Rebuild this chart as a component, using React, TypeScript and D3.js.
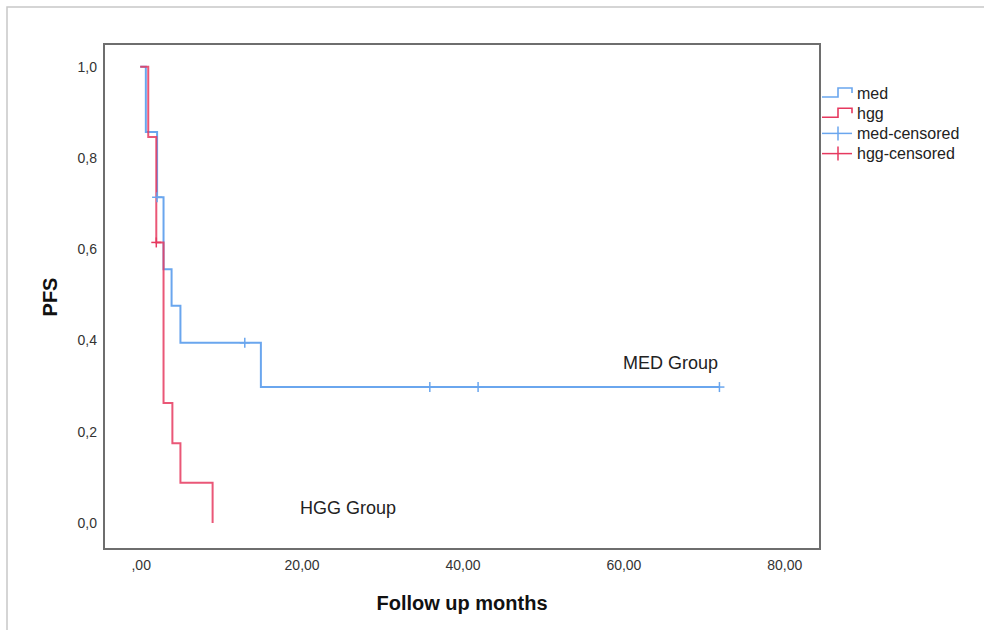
import React from "react"
import * as d3 from "d3"

const chart_width = 984
const chart_height = 630

// Kaplan-Meier steps
const medTimes = [0, 0.7, 2.1, 2.9, 3.9, 5.0, 15.0, 72.0]
const medSurv = [1.0, 0.857, 0.714, 0.556, 0.476, 0.395, 0.298, 0.298]
const hggTimes = [0, 1.0, 2.0, 2.9, 4.0, 5.0, 9.0]
const hggSurv = [1.0, 0.846, 0.615, 0.263, 0.175, 0.088, 0.0]

const medCensorTimes = [2.1, 13, 36, 42, 72]
const medCensorSurv = [0.714, 0.395, 0.298, 0.298, 0.298]
const hggCensorTimes = [2.0]
const hggCensorSurv = [0.615]

const xTicks = [0, 20, 40, 60, 80]
const xTickLabels = [",00", "20,00", "40,00", "60,00", "80,00"]
const yTicks = [0, 0.2, 0.4, 0.6, 0.8, 1.0]
const yTickLabels = ["0,0", "0,2", "0,4", "0,6", "0,8", "1,0"]

const legendLabels = ["med", "hgg", "med-censored", "hgg-censored"]

const blue = "#6aa6ee"
const red = "#e6395f"

const plot = { left: 104, right: 820, top: 44, bottom: 549 }

const App = () => {
  const x = d3.scaleLinear().domain([-4.5, 84.5]).range([plot.left, plot.right])
  const y = d3.scaleLinear().domain([-0.057, 1.05]).range([plot.bottom, plot.top])

  const line = d3
    .line<[number, number]>()
    .x(d => x(d[0]))
    .y(d => y(d[1]))
    .curve(d3.curveStepAfter)

  const medPts = medTimes.map((t, i) => [t, medSurv[i]] as [number, number])
  const hggPts = hggTimes.map((t, i) => [t, hggSurv[i]] as [number, number])

  const censor = (t: number, s: number, color: string, key: string) => {
    const cx = x(t)
    const cy = y(s)
    return (
      <g key={key} stroke={color} strokeWidth={1.5}>
        <line x1={cx - 5} x2={cx + 5} y1={cy} y2={cy} />
        <line x1={cx} x2={cx} y1={cy - 5} y2={cy + 5} />
      </g>
    )
  }

  const font = "Liberation Sans, Arial, sans-serif"

  return (
    <div style={{ position: "absolute", left: 0, top: 0 }}>
      <svg width={chart_width} height={chart_height} fontFamily={font}>
        <rect x={0} y={0} width={chart_width} height={chart_height} fill="#fff" />
        {/* outer panel border */}
        <rect x={7} y={7} width={1000} height={700} fill="none" stroke="#c8c8c8" strokeWidth={1.5} />

        {/* plot frame */}
        <rect
          x={plot.left}
          y={plot.top}
          width={plot.right - plot.left}
          height={plot.bottom - plot.top}
          fill="none"
          stroke="#6e6e6e"
          strokeWidth={2}
        />

        {/* y tick labels */}
        {yTicks.map((v, i) => (
          <text key={"y" + i} x={97} y={y(v)} dy="0.35em" textAnchor="end" fontSize={14} fill="#333">
            {yTickLabels[i]}
          </text>
        ))}

        {/* x tick labels */}
        {xTicks.map((v, i) => (
          <text key={"x" + i} x={x(v) + 1} y={565} dy="0.35em" textAnchor="middle" fontSize={14} fill="#333">
            {xTickLabels[i]}
          </text>
        ))}

        {/* curves */}
        <path d={line(medPts) || ""} fill="none" stroke={blue} strokeWidth={2} />
        <path d={line(hggPts) || ""} fill="none" stroke={red} strokeWidth={2} strokeOpacity={0.85} />

        {medCensorTimes.map((t, i) => censor(t, medCensorSurv[i], blue, "mc" + i))}
        {hggCensorTimes.map((t, i) => censor(t, hggCensorSurv[i], red, "hc" + i))}

        {/* group annotations */}
        <text x={623} y={369} fontSize={18} fill="#222">MED Group</text>
        <text x={300} y={514} fontSize={18} fill="#222">HGG Group</text>

        {/* axis titles */}
        <text x={462} y={610} textAnchor="middle" fontSize={20} fontWeight="bold" fill="#111">
          Follow up months
        </text>
        <text
          transform="translate(57,297) rotate(-90)"
          textAnchor="middle"
          fontSize={20}
          fontWeight="bold"
          fill="#111"
        >
          PFS
        </text>

        {/* legend */}
        {legendLabels.map((lab, i) => {
          const ly = 93 + i * 20.2
          const color = i % 2 === 0 ? blue : red
          return (
            <g key={"lg" + i}>
              {i < 2 ? (
                <path
                  d={`M822,${ly + 4}H838V${ly - 5}H852V${ly}`}
                  fill="none"
                  stroke={color}
                  strokeWidth={1.6}
                />
              ) : (
                <g stroke={color} strokeWidth={1.5}>
                  <line x1={822} x2={852} y1={ly} y2={ly} />
                  <line x1={838} x2={838} y1={ly - 7} y2={ly + 7} />
                </g>
              )}
              <text x={857} y={ly} dy="0.35em" fontSize={16} fill="#222">
                {lab}
              </text>
            </g>
          )
        })}
      </svg>
    </div>
  )
}

export default App
